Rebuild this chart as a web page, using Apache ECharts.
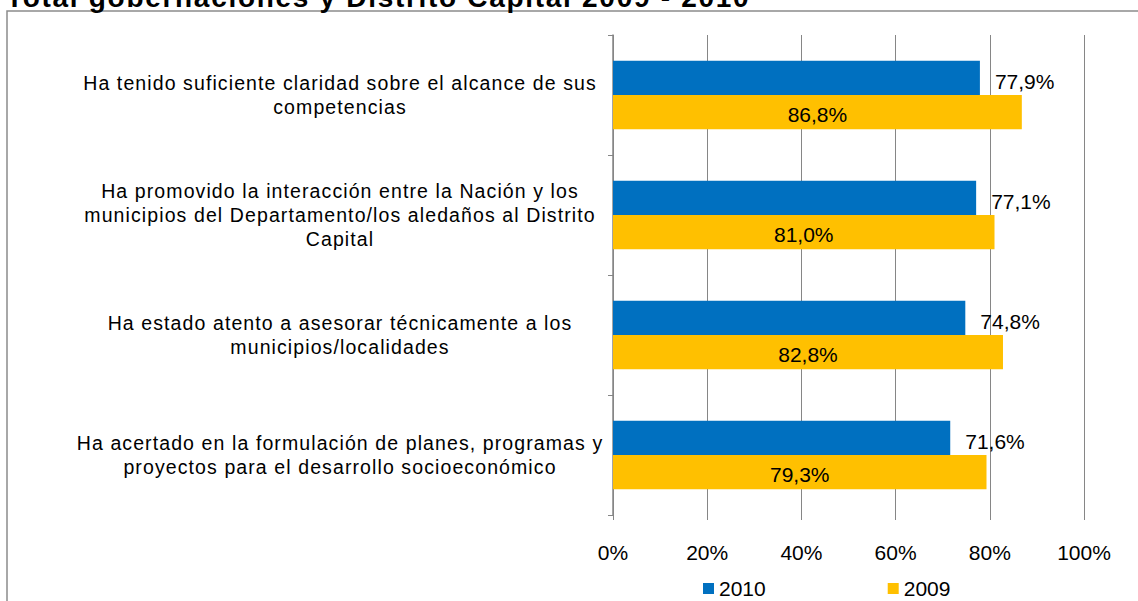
<!DOCTYPE html>
<html>
<head>
<meta charset="utf-8">
<script src="https://cdn.jsdelivr.net/npm/echarts@6/dist/echarts.min.js"></script>
<style>
html,body{margin:0;padding:0;background:#fff}
#c{width:1138px;height:601px}
#c text[style*="19.5px"], #c text[font-size="19.5px"], #c text[font-size="19.5"] {letter-spacing:1.1px}
#c text[style*="28px"], #c text[font-size="28px"], #c text[font-size="28"] {letter-spacing:1.7px}
</style>
</head>
<body>
<div id="c"></div>
<script>
const titleText = 'Total gobernaciones y Distrito Capital 2009 - 2010';
const categories = [
  'Ha tenido suficiente claridad sobre el alcance de sus\ncompetencias',
  'Ha promovido la interacción entre la Nación y los\nmunicipios del Departamento/los aledaños al Distrito\nCapital',
  'Ha estado atento a asesorar técnicamente a los\nmunicipios/localidades',
  'Ha acertado en la formulación de planes, programas y\nproyectos para el desarrollo socioeconómico'
];
const seriesNames = ['2010', '2009'];
const values2010 = [77.9, 77.1, 74.8, 71.6];
const values2009 = [86.8, 81.0, 82.8, 79.3];
const xTicks = [0, 20, 40, 60, 80, 100];

const font = 'Liberation Sans, Arial, sans-serif';
const fmt = v => v.toFixed(1).replace('.', ',') + '%';

const chart = echarts.init(document.getElementById('c'), null, {renderer: 'svg'});
chart.setOption({
  animation: false,
  backgroundColor: '#fff',
  graphic: [
    {type: 'rect', shape: {x: 7, y: 11, width: 1300, height: 800},
     style: {fill: 'none', stroke: '#8c8c8c', lineWidth: 1.5}, silent: true},
    {type: 'text', x: 6, y: -3,
     style: {text: titleText, fontFamily: font, fontWeight: 'bold', fontSize: 28,
       fill: '#000', verticalAlign: 'middle', align: 'left'}}
  ],
  grid: {left: 613, right: 54, top: 35, bottom: 86, containLabel: false},
  legend: {
    data: seriesNames, left: 703, top: 578, itemWidth: 11, itemHeight: 11,
    itemGap: 122, icon: 'rect', padding: 0,
    textStyle: {fontFamily: font, fontSize: 21, color: '#000'}
  },
  xAxis: {
    type: 'value', min: xTicks[0], max: xTicks[xTicks.length - 1], interval: 20,
    axisLine: {show: false},
    axisTick: {show: true, length: 5, lineStyle: {color: '#868686'}},
    splitLine: {show: true, lineStyle: {color: '#868686', width: 1}},
    axisLabel: {formatter: v => v + '%', fontFamily: font, fontSize: 21, color: '#000', margin: 27}
  },
  yAxis: {
    type: 'category', inverse: true, data: categories,
    axisLine: {show: true, lineStyle: {color: '#868686', width: 1.5}},
    axisTick: {show: true, length: 5, lineStyle: {color: '#868686'}},
    axisLabel: {fontFamily: font, fontSize: 19.5, color: '#000', margin: 273, align: 'center', lineHeight: 24}
  },
  series: [
    {name: seriesNames[0], type: 'bar', data: values2010, barGap: '0%', barCategoryGap: '43%',
     itemStyle: {color: '#0070C0'},
     label: {show: true, position: 'right', distance: 15, offset: [0, 4], formatter: p => fmt(p.value),
       fontFamily: font, fontSize: 21, color: '#000'}},
    {name: seriesNames[1], type: 'bar', data: values2009, barGap: '0%', barCategoryGap: '43%',
     itemStyle: {color: '#FFC000'},
     label: {show: true, position: 'inside', offset: [0, 2], formatter: p => fmt(p.value),
       fontFamily: font, fontSize: 21, color: '#000'}}
  ]
});
</script>
</body>
</html>
